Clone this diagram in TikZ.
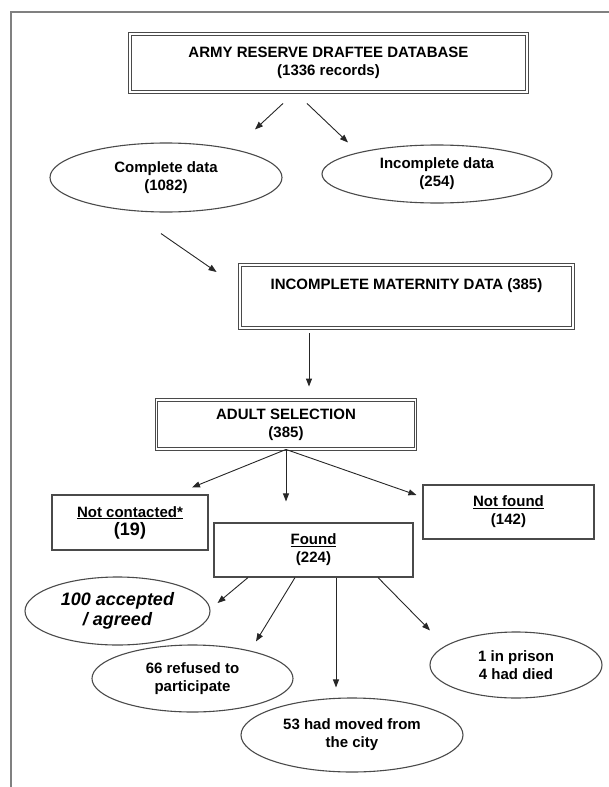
\documentclass[tikz,border=0pt]{standalone}
\usepackage{fontspec}
\setmainfont{Liberation Sans}
\usetikzlibrary{shapes.geometric,arrows.meta,calc}
\definecolor{linegray}{HTML}{4A4A4A}
\definecolor{framegray}{HTML}{808080}
\tikzset{
    dblbox/.style={draw=linegray, line width=0.9pt, double=white, double distance=1.4pt, align=center, inner sep=0pt},
    plainbox/.style={draw=linegray, line width=1.1pt, align=center, inner sep=0pt},
    oval/.style={ellipse, draw=linegray, line width=1.1pt, align=center, inner sep=0pt},
    arr/.style={-{Triangle[length=8pt,width=6pt]}, line width=0.9pt, draw=black!85},
}
\begin{document}
\begin{tikzpicture}[x=1pt, y=-1pt, font={\fontsize{15}{18}\selectfont\bfseries}]
    \useasboundingbox (0,0) rectangle (609,787);
    %frame, only top and left edges are visible
    \draw[framegray, line width=1.5pt] (11,787) -- (11,12) -- (609,12);

    \node[dblbox, minimum width=397, minimum height=58] (dbase) at (328.5,63) {ARMY RESERVE DRAFTEE DATABASE\\(1336 records)};
    \node[oval, minimum width=232, minimum height=69] (compl) at (166,177.5) {Complete data\\(1082)};
    \node[oval, minimum width=230, minimum height=58] (incompl) at (437,174) {Incomplete data\\(254)};

    \node[dblbox, minimum width=333, minimum height=63] (matern) at (406.5,296.5) {INCOMPLETE MATERNITY DATA (385)\\[6pt]\mbox{}};
    \node[dblbox, minimum width=259, minimum height=49] (adult) at (286,424.5) {ADULT SELECTION\\(385)};

    \node[plainbox, minimum width=156, minimum height=55] (notcont) at (130,522.5) {\underline{Not contacted*}\\{\fontsize{18}{20}\selectfont (19)}};
    \node[plainbox, minimum width=199, minimum height=54] (found) at (313.5,550) {\underline{Found}\\(224)};
    \node[plainbox, minimum width=171, minimum height=54] (notfound) at (508.5,512) {\underline{Not found}\\(142)};

    \node[oval, minimum width=185, minimum height=68, font={\fontsize{18}{20}\selectfont\bfseries\itshape}] (accepted) at (117.5,611) {100 accepted\\/ agreed};
    \node[oval, minimum width=201, minimum height=67] (refused) at (192.5,678.5) {66 refused to\\participate};
    \node[oval, minimum width=222, minimum height=74] (moved) at (352,735) {53 had moved from\\the city};
    \node[oval, minimum width=172, minimum height=66] (prison) at (516,665) {1 in prison\\4 had died};

    \draw[arr] ($(dbase.south)+(-45.5,11)$) -- ($(compl.north)+(89,-13)$);
    \draw[arr] ($(dbase.south)+(-21.5,11)$) -- ($(incompl.north)+(-89,-2)$);
    \draw[arr] ($(compl.south)+(-5,21)$) -- ($(matern.west)+(-23,-24.5)$);
    \draw[arr] ($(matern.south)+(-97.5,5)$) -- ($(adult.north)+(23,-13)$);

    \draw[arr] (adult.south) -- ($(notcont.north)+(62,-7)$);
    \draw[arr] (adult.south) -- ($(found.north)+(-27.5,-21)$);
    \draw[arr] (adult.south) -- ($(notfound.west)+(-6,-17)$);

    \draw[arr] ($(found.south)+(-65.5,0)$) -- ($(accepted.east)+(7,-8)$);
    \draw[arr] ($(found.south)+(-18.5,0)$) -- ($(refused.north)+(63.5,-3)$);
    \draw[arr] ($(found.south)+(22.5,0)$) -- ($(moved.north)+(-16,-10)$);
    \draw[arr] ($(found.south)+(64.5,0)$) -- ($(prison.north)+(-86,-1)$);
\end{tikzpicture}
\end{document}
